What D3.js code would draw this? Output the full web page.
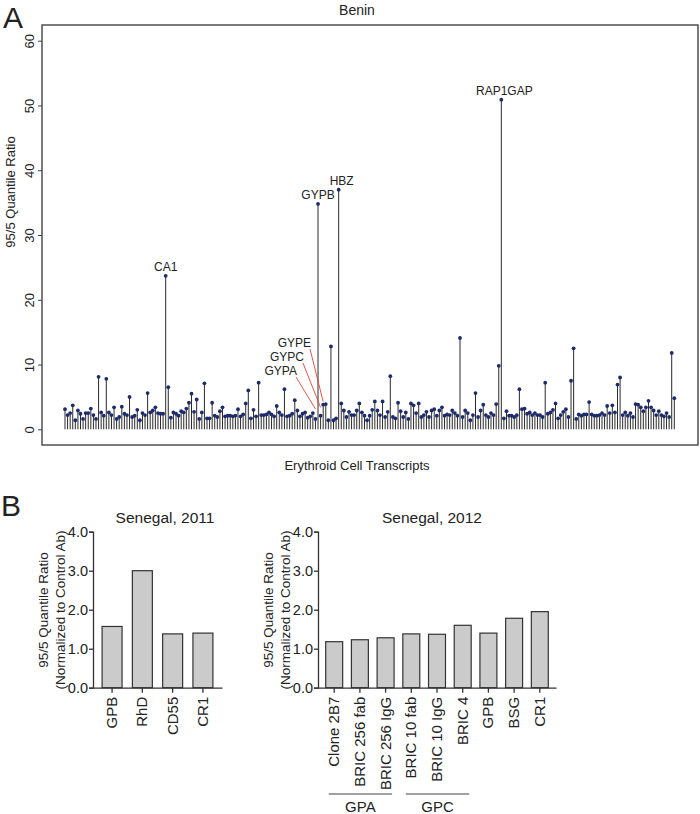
<!DOCTYPE html>
<html>
<head>
<meta charset="utf-8">
<script src="https://cdn.jsdelivr.net/npm/d3@7"></script>
<style>
body { margin: 0; background: #fff; }
text { font-family: "Liberation Sans", Arial, sans-serif; fill: #222; }
</style>
</head>
<body>
<script>
// panel A: 95/5 quantile ratio for every erythroid transcript, left to right
let ratios = [
	3.1, 2.2, 2.5, 3.7, 1.4, 2.9, 2.4, 1.6, 2.5, 2.5,
	3.2, 2.2, 1.6, 8.1, 2.6, 2.1, 7.8, 2.6, 2.2, 3.4,
	1.6, 1.9, 3.5, 2.4, 2.2, 5.0, 1.9, 2.1, 3.0, 1.4,
	2.5, 2.2, 5.6, 2.6, 2.9, 3.4, 2.5, 2.4, 2.4, 23.7,
	6.5, 1.8, 2.6, 2.4, 2.1, 2.8, 2.6, 3.2, 4.1, 5.5,
	2.7, 4.6, 1.6, 2.6, 7.1, 1.7, 1.7, 4.1, 2.1, 1.9,
	2.8, 3.4, 2.0, 2.1, 2.1, 2.0, 2.1, 3.1, 2.0, 2.3,
	4.0, 6.0, 1.7, 3.0, 2.0, 7.2, 2.2, 2.2, 2.3, 2.6,
	2.3, 2.0, 3.6, 2.6, 2.2, 6.2, 2.0, 2.1, 2.4, 4.5,
	2.9, 2.0, 2.4, 2.6, 1.8, 2.0, 2.5, 1.6, 34.8, 2.1,
	3.8, 3.9, 1.4, 12.8, 1.4, 1.7, 37.0,
	4.0, 2.9, 1.9, 2.7, 2.2, 2.2, 2.9, 4.0, 2.6, 2.1,
	1.4, 2.1, 3.0, 4.3, 2.9, 2.2, 4.3, 1.9, 2.7, 8.2,
	1.9, 1.7, 4.1, 2.8, 1.9, 2.6, 1.6, 4.0, 3.7, 2.5,
	4.0, 1.9, 2.2, 2.7, 1.9, 2.9, 3.1, 2.1, 2.9, 3.4,
	2.1, 2.3, 2.2, 2.9, 2.5, 2.1, 14.1, 1.9, 2.9, 2.5,
	1.4, 2.2, 5.6, 1.9, 2.9, 3.8, 2.2, 1.9, 2.5, 2.2,
	3.9, 9.8,
	50.9, 1.7, 2.8, 2.1, 2.1, 1.9, 2.2, 6.2, 3.1, 3.2,
	2.4, 2.6, 2.2, 2.5, 2.2, 2.2, 1.9, 7.2, 2.4, 2.6,
	3.0, 4.0, 1.7, 2.2, 2.7, 3.1, 1.9, 7.5, 12.5, 1.6,
	2.3, 2.1, 2.3, 2.3, 4.2, 2.3, 2.1, 2.1, 2.2, 2.5,
	2.2, 3.6, 2.5, 3.7, 2.6, 6.9, 8.0, 2.2, 2.6, 2.1,
	2.5, 1.9, 3.9, 3.8, 3.4, 2.8, 3.4, 4.4, 3.4, 2.9,
	2.2, 2.8, 2.2, 2.0, 2.5, 1.9, 11.8, 4.8
];
let yTicksA = [0, 10, 20, 30, 40, 50, 60];

// named transcripts (label sits on top of the stem)
let topGenes = ["CA1", "GYPB", "HBZ", "RAP1GAP"];
let topIdx = [39, 98, 106, 169];
// named transcripts pointed at with a red line
let sideGenes = ["GYPE", "GYPC", "GYPA"];
let sideIdx = [100, 99, 97];

// panel B
let cats2011 = ["GPB", "RhD", "CD55", "CR1"];
let vals2011 = [1.57, 3.0, 1.38, 1.4];
let cats2012 = ["Clone 2B7", "BRIC 256 fab", "BRIC 256 IgG", "BRIC 10 fab", "BRIC 10 IgG", "BRIC 4", "GPB", "BSG", "CR1"];
let vals2012 = [1.18, 1.23, 1.28, 1.38, 1.37, 1.6, 1.4, 1.78, 1.95];
let groupNames = ["GPA", "GPC"];
let groupFirst = ["Clone 2B7", "BRIC 10 fab"];
let groupLast = ["BRIC 256 IgG", "BRIC 4"];
let yTicksB = [0, 1, 2, 3, 4];

let svg = d3.select("body").append("svg")
	.attr("width", 700)
	.attr("height", 814);

/* ---------- panel A ---------- */
let frame = { left: 42, right: 698, top: 25, bottom: 445 };

let x = d3.scalePoint()
	.domain(d3.range(ratios.length))
	.range([65, 674.3]);

let y = d3.scaleLinear()
	.domain([0, 60])
	.range([429.3, 40.7]);

svg.append("text") //panel letter
	.attr("x", 3)
	.attr("y", 28)
	.attr("font-size", 30)
	.text("A");

svg.append("text")
	.attr("x", 357)
	.attr("y", 15)
	.attr("text-anchor", "middle")
	.attr("font-size", 14)
	.text("Benin");

svg.append("rect") //box round the plot
	.attr("x", frame.left)
	.attr("y", frame.top)
	.attr("width", frame.right - frame.left)
	.attr("height", frame.bottom - frame.top)
	.attr("fill", "none")
	.attr("stroke", "#444")
	.attr("stroke-width", 1.4);

let yAxisA = svg.append("g")
	.attr("transform", `translate(${frame.left},0)`)
	.call(d3.axisLeft(y).tickValues(yTicksA).tickSize(4).tickFormat(d3.format("d")));
yAxisA.select(".domain").remove();
yAxisA.selectAll("line").attr("stroke", "#444");
yAxisA.selectAll("text")
	.attr("transform", "rotate(-90)")
	.attr("text-anchor", "middle")
	.attr("x", 0)
	.attr("y", -8)
	.attr("dy", 0)
	.attr("font-size", 13)
	.attr("fill", "#222");

svg.append("text")
	.attr("transform", "translate(15,192) rotate(-90)")
	.attr("text-anchor", "middle")
	.attr("font-size", 13)
	.text("95/5 Quantile Ratio");

svg.append("text")
	.attr("x", 357)
	.attr("y", 470)
	.attr("text-anchor", "middle")
	.attr("font-size", 13)
	.text("Erythroid Cell Transcripts");

//stems
svg.append("g").selectAll("line").data(ratios).enter().append("line")
	.attr("x1", (d, i) => x(i))
	.attr("x2", (d, i) => x(i))
	.attr("y1", y(0))
	.attr("y2", d => y(d))
	.attr("stroke", "#2a2a2a")
	.attr("stroke-width", 1);

//red pointer lines (under the dots)
sideGenes.forEach(function(g, k) {
	let i = sideIdx[k];
	let tx = 311 - k * 7;
	let ty = 347 + k * 14;
	let endY = Math.min(y(ratios[i]) - 3, y(3.6) + k * 1.5);
	svg.append("line")
		.attr("x1", tx - 1)
		.attr("y1", ty + 2)
		.attr("x2", x(i))
		.attr("y2", endY)
		.attr("stroke", "#e0413a")
		.attr("stroke-width", 0.9);
	svg.append("text")
		.attr("x", tx)
		.attr("y", ty)
		.attr("text-anchor", "end")
		.attr("font-size", 12)
		.text(g);
});

//dots
svg.append("g").selectAll("circle").data(ratios).enter().append("circle")
	.attr("cx", (d, i) => x(i))
	.attr("cy", d => y(d))
	.attr("r", 1.9)
	.attr("fill", "#1d2b6b");

topGenes.forEach(function(g, k) {
	let i = topIdx[k];
	svg.append("text")
		.attr("x", x(i) + (g == "HBZ" || g == "RAP1GAP" ? 3 : 0))
		.attr("y", y(ratios[i]) - 5)
		.attr("text-anchor", "middle")
		.attr("font-size", 12)
		.text(g);
});

/* ---------- panel B ---------- */
svg.append("text")
	.attr("x", 1)
	.attr("y", 516)
	.attr("font-size", 30)
	.text("B");

let yB = d3.scaleLinear()
	.domain([0, 4])
	.range([687.7, 531.7]);

function barPanel(cats, vals, x0, x1, title, titleX, labX) {
	let xb = d3.scaleBand()
		.domain(cats)
		.range([x0, x1])
		.paddingInner(0.34)
		.paddingOuter(0.3);

	svg.append("text")
		.attr("x", titleX)
		.attr("y", 523)
		.attr("text-anchor", "middle")
		.attr("font-size", 15.5)
		.text(title);

	svg.append("g").selectAll("rect").data(vals).enter().append("rect")
		.attr("x", (d, i) => xb(cats[i]))
		.attr("y", d => yB(d))
		.attr("width", xb.bandwidth())
		.attr("height", d => yB(0) - yB(d))
		.attr("fill", "#cbcbcb")
		.attr("stroke", "#333")
		.attr("stroke-width", 1.2);

	let ya = svg.append("g")
		.attr("transform", `translate(${x0},0)`)
		.call(d3.axisLeft(yB).tickValues(yTicksB).tickSize(4).tickPadding(1).tickFormat(d3.format(".1f")));
	ya.select(".domain").attr("stroke", "#333").attr("stroke-width", 1.3);
	ya.selectAll("line").attr("stroke", "#333").attr("stroke-width", 1.3);
	ya.selectAll("text").attr("font-size", 14.5).attr("fill", "#222");

	let xa = svg.append("g")
		.attr("transform", `translate(0,${yB(0)})`)
		.call(d3.axisBottom(xb).tickSize(5).tickSizeOuter(0));
	xa.select(".domain").attr("stroke", "#333").attr("stroke-width", 1.3);
	xa.selectAll("line").attr("stroke", "#333").attr("stroke-width", 1.3);
	xa.selectAll("text")
		.attr("transform", "rotate(-90)")
		.attr("text-anchor", "end")
		.attr("x", -9)
		.attr("y", 5)
		.attr("dy", 0)
		.attr("font-size", 15)
		.attr("fill", "#222");

	let lab = svg.append("text")
		.attr("transform", `translate(${labX},610) rotate(-90)`)
		.attr("text-anchor", "middle")
		.attr("font-size", 13.5);
	lab.append("tspan").attr("x", 0).attr("dy", 0).text("95/5 Quantile Ratio");
	lab.append("tspan").attr("x", 0).attr("dy", 17).text("(Normalized to Control Ab)");

	return xb;
}

barPanel(cats2011, vals2011, 93, 222, "Senegal, 2011", 165, 48);
let xb12 = barPanel(cats2012, vals2012, 318, 556, "Senegal, 2012", 432, 273);

//group brackets under the 2012 labels
groupNames.forEach(function(g, k) {
	let a = xb12(groupFirst[k]) + 3;
	let b = xb12(groupLast[k]) + xb12.bandwidth() - 2;
	svg.append("line")
		.attr("x1", a).attr("x2", b)
		.attr("y1", 794).attr("y2", 794)
		.attr("stroke", "#444")
		.attr("stroke-width", 1.2);
	svg.append("text")
		.attr("x", (a + b) / 2)
		.attr("y", 812)
		.attr("text-anchor", "middle")
		.attr("font-size", 15)
		.text(g);
});
</script>
</body>
</html>
